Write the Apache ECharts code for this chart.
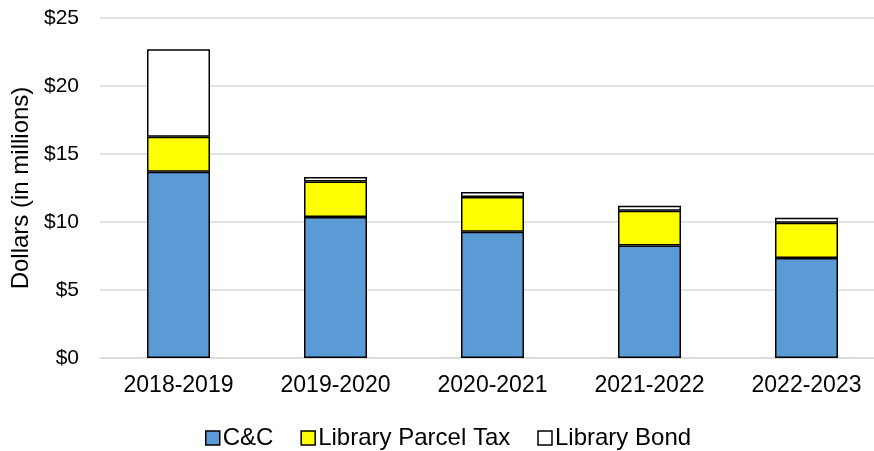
<!DOCTYPE html>
<html><head><meta charset="utf-8">
<script src="https://cdn.jsdelivr.net/npm/echarts@6/dist/echarts.min.js"></script>
<style>html,body{margin:0;padding:0;background:#fff}#c{width:874px;height:451px}</style>
</head><body><div id="c"></div>
<script>
const categories = ['2018-2019','2019-2020','2020-2021','2021-2022','2022-2023'];
const ccValues = [13.7, 10.37, 9.29, 8.28, 7.35];
const parcelTaxValues = [2.57, 2.61, 2.55, 2.55, 2.6];
const bondValues = [6.43, 0.32, 0.36, 0.37, 0.37];
const yTicks = [0,5,10,15,20,25];

const font = 'Liberation Sans, Arial, sans-serif';
const chart = echarts.init(document.getElementById('c'));
const bs = (name, data, color) => ({
  name, type:'bar', stack:'t', data, barWidth:63,
  itemStyle:{color, borderColor:'#000', borderWidth:1.5},
  emphasis:{disabled:true}
});
chart.setOption({
  animation:false,
  grid:{left:100, right:-11, top:18, bottom:93, outerBoundsMode:'none', containLabel:false},
  legend:{
    top:421, left:200, itemWidth:14, itemHeight:14, itemGap:27,
    icon:'rect',
    textStyle:{fontFamily:font, fontSize:24, color:'#000', padding:[0,0,0,-2]},
    data:[
      {name:'C&C', itemStyle:{borderColor:'#000', borderWidth:1.5}},
      {name:'Library Parcel Tax', itemStyle:{borderColor:'#000', borderWidth:1.5}},
      {name:'Library Bond', itemStyle:{borderColor:'#000', borderWidth:1.5}}
    ]
  },
  xAxis:{
    type:'category', data:categories,
    axisLine:{lineStyle:{color:'#d9d9d9', width:1.5}},
    axisTick:{show:false},
    axisLabel:{fontFamily:font, fontSize:23, color:'#000', margin:16}
  },
  yAxis:{
    type:'value', min:0, max:25, interval:5,
    name:'Dollars (in millions)', nameLocation:'middle', nameGap:50,
    nameTextStyle:{fontFamily:font, fontSize:24, color:'#000', padding:[0,0,12,0]},
    axisLine:{show:false}, axisTick:{show:false},
    splitLine:{lineStyle:{color:'#d9d9d9', width:1.5}},
    axisLabel:{fontFamily:font, fontSize:21, color:'#000', margin:21,
      formatter:v => yTicks.includes(v) ? '$'+v : ''}
  },
  series:[
    bs('C&C', ccValues, '#5b9bd5'),
    bs('Library Parcel Tax', parcelTaxValues, '#ffff00'),
    bs('Library Bond', bondValues, '#ffffff')
  ]
});
</script></body></html>
